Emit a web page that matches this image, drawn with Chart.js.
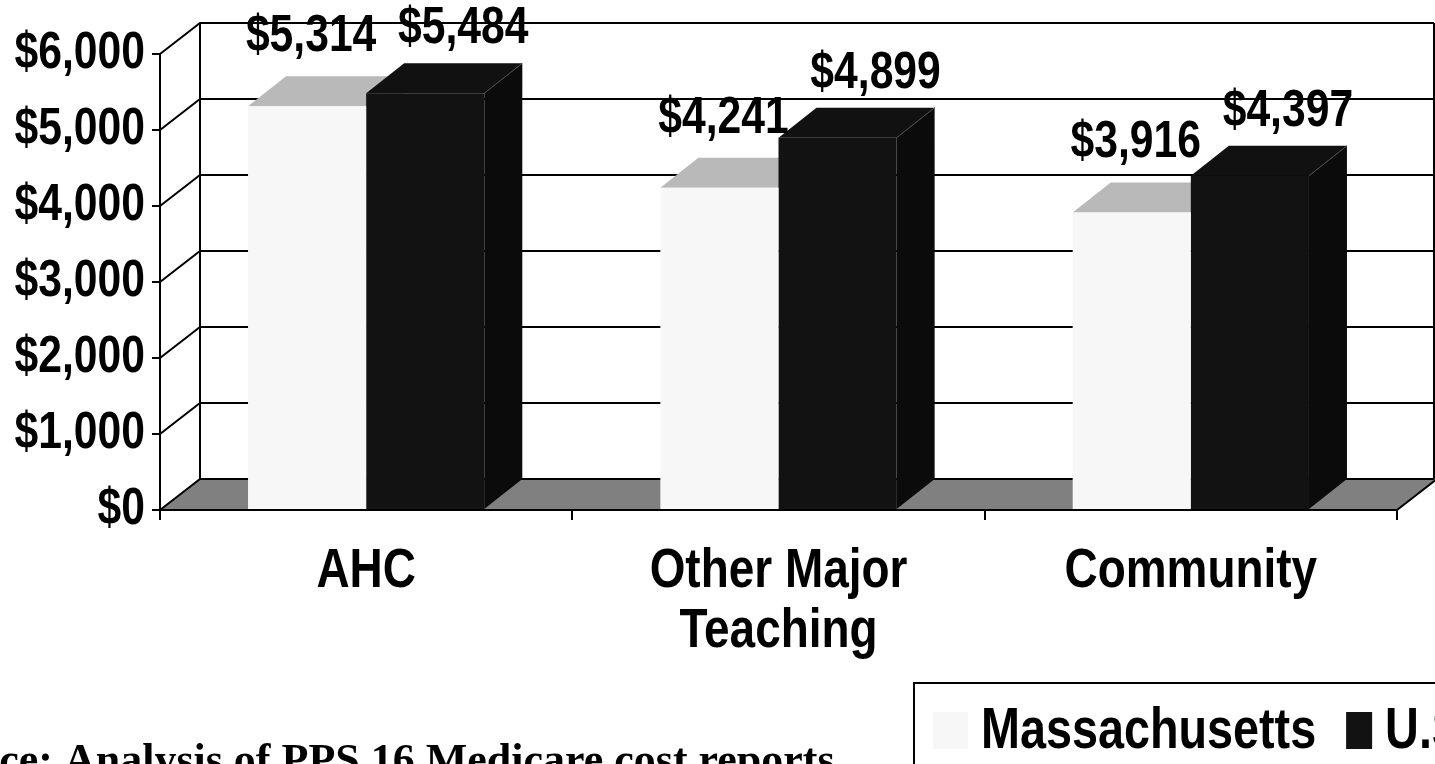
<!DOCTYPE html>
<html><head><meta charset="utf-8">
<script src="https://cdn.jsdelivr.net/npm/chart.js@4.4.1/dist/chart.umd.min.js"></script>
<style>html,body{margin:0;padding:0;background:#fff;overflow:hidden}#wrap{width:1435px;height:764px;position:relative}</style>
</head><body><div id="wrap"><canvas id="c" width="1435" height="764"></canvas></div>
<script>
// ---- data ----
const categories = ['AHC', ['Other Major', 'Teaching'], 'Community'];
const seriesNames = ['Massachusetts', 'U.S.'];
const massValues = [5314, 4241, 3916];
const usValues = [5484, 4899, 4397];
const yTickValues = [0, 1000, 2000, 3000, 4000, 5000, 6000];
const sourceNote = 'Source: Analysis of PPS 16 Medicare cost reports';

// ---- style ----
const FONT = "'Liberation Sans','Arial',sans-serif";
const NARROW = 0.82;          // horizontal squeeze to imitate a narrow face
const WALL = {dx: 40, dy: -31};
const BAR = {dx: 38, dy: -30};
const fmt = v => '$' + v.toLocaleString('en-US');

const canvas = document.getElementById('c');
const ctx0 = canvas.getContext('2d');
const origFill = ctx0.fillText;
ctx0.fillText = function (text, x, y, maxWidth) {
  const sx = this.__noSqueeze ? 1 : NARROW;
  this.save();
  this.translate(x, y);
  this.scale(sx, 1);
  origFill.call(this, text, 0, 0);
  this.restore();
};

function poly(ctx, pts) {
  ctx.beginPath();
  ctx.moveTo(pts[0][0], pts[0][1]);
  for (let i = 1; i < pts.length; i++) ctx.lineTo(pts[i][0], pts[i][1]);
  ctx.closePath();
  ctx.fill();
}

const wallPlugin = {
  id: 'wall3d',
  beforeDraw(chart) {
    const {ctx, chartArea: a, scales: {y}} = chart;
    const L = a.left, R = a.right, B = y.getPixelForValue(0);
    const wl = L + WALL.dx, wr = chart.width - 1;
    const top = y.getPixelForValue(yTickValues[yTickValues.length - 1]) + WALL.dy;
    ctx.save();
    ctx.fillStyle = '#808080';
    poly(ctx, [[L, B], [R, B], [R + WALL.dx, B + WALL.dy], [wl, B + WALL.dy]]);
    ctx.strokeStyle = '#000';
    ctx.lineWidth = 2;
    ctx.beginPath();
    yTickValues.forEach(v => {
      const py = y.getPixelForValue(v);
      ctx.moveTo(L, py);
      ctx.lineTo(wl, py + WALL.dy);
      ctx.lineTo(wr, py + WALL.dy);
    });
    ctx.moveTo(wl, top); ctx.lineTo(wl, B + WALL.dy);
    ctx.moveTo(wr, top); ctx.lineTo(wr, B + WALL.dy);
    ctx.moveTo(R, B); ctx.lineTo(R + WALL.dx, B + WALL.dy);
    ctx.stroke();
    ctx.restore();
  },
  beforeDatasetsDraw(chart) {
    const ctx = chart.ctx;
    ctx.save();
    chart.data.datasets.forEach((ds, i) => {
      chart.getDatasetMeta(i).data.forEach(el => {
        const p = el.getProps(['x', 'y', 'base', 'width'], true);
        const l = p.x - p.width / 2, r = p.x + p.width / 2;
        ctx.fillStyle = ds.sideColor;
        poly(ctx, [[r, p.y], [r + BAR.dx, p.y + BAR.dy], [r + BAR.dx, p.base + BAR.dy], [r, p.base]]);
        ctx.fillStyle = ds.topColor;
        poly(ctx, [[l, p.y], [r, p.y], [r + BAR.dx, p.y + BAR.dy], [l + BAR.dx, p.y + BAR.dy]]);
        if (ds.edgeColor) {
          ctx.strokeStyle = ds.edgeColor;
          ctx.lineWidth = 1;
          ctx.beginPath();
          ctx.moveTo(r, p.y); ctx.lineTo(r + BAR.dx, p.y + BAR.dy);
          ctx.stroke();
        }
      });
    });
    ctx.restore();
  },
  afterDatasetsDraw(chart) {
    const ctx = chart.ctx;
    ctx.save();
    ctx.fillStyle = '#000';
    ctx.font = 'bold 52px ' + FONT;
    ctx.textAlign = 'center';
    ctx.textBaseline = 'alphabetic';
    chart.data.datasets.forEach((ds, i) => {
      chart.getDatasetMeta(i).data.forEach((el, j) => {
        const p = el.getProps(['x', 'y'], true);
        ctx.fillText(fmt(ds.data[j]), p.x + ds.labelDx, p.y - ds.labelDy);
      });
    });
    ctx.restore();
  },
  afterDraw(chart) {
    const ctx = chart.ctx;
    ctx.save();
    // legend box
    ctx.strokeStyle = '#000';
    ctx.lineWidth = 2;
    ctx.strokeRect(914, 683, 700, 200);
    ctx.font = 'bold 57px ' + FONT;
    ctx.textBaseline = 'alphabetic';
    ctx.textAlign = 'left';
    let x = 933;
    chart.data.datasets.forEach((ds, i) => {
      const w = i === 0 ? 35 : 26;
      ctx.fillStyle = ds.backgroundColor;
      ctx.fillRect(x, 712, w, 37);
      x += w + 13;
      ctx.fillStyle = '#000';
      ctx.fillText(ds.label, x, 748);
      x += ctx.measureText(ds.label).width * NARROW + 30;
    });
    // source note (serif, not squeezed)
    ctx.__noSqueeze = true;
    ctx.font = 'bold 44px "Liberation Serif","Times New Roman",serif';
    const cut = ctx.measureText('Sour').width;
    ctx.fillText(sourceNote, -cut, 774);
    ctx.__noSqueeze = false;
    ctx.restore();
  }
};

new Chart(canvas, {
  type: 'bar',
  data: {
    labels: categories,
    datasets: [
      {label: seriesNames[0], data: massValues, backgroundColor: '#f7f7f7', topColor: '#b9b9b9', sideColor: '#d0d0d0',
       labelDx: 4, labelDy: 55, borderWidth: 0},
      {label: seriesNames[1], data: usValues, backgroundColor: '#121212', topColor: '#111111', sideColor: '#0b0b0b',
       edgeColor: '#4a4a4a', labelDx: 38, labelDy: 50, borderWidth: 0}
    ]
  },
  options: {
    responsive: false,
    animation: false,
    devicePixelRatio: 1,
    layout: {padding: {top: 54, right: 38, left: 0, bottom: 0}},
    categoryPercentage: 0.573,
    barPercentage: 1.0,
    plugins: {legend: {display: false}, tooltip: {enabled: false}},
    scales: {
      x: {
        grid: {offset: true, drawOnChartArea: false, drawTicks: true, tickLength: 10, color: '#000', lineWidth: 2},
        border: {display: true, color: '#000', width: 2, z: 1},
        ticks: {color: '#000', font: {family: FONT, size: 56, weight: 'bold', lineHeight: 1.07}, padding: 22, maxRotation: 0, autoSkip: false},
        afterFit: s => { s.height = 254; }
      },
      y: {
        min: 0, max: 6000,
        afterBuildTicks: s => { s.ticks = yTickValues.map(v => ({value: v})); },
        grid: {drawOnChartArea: false, drawTicks: true, tickLength: 8, color: '#000', lineWidth: 2},
        border: {display: true, color: '#000', width: 2},
        ticks: {color: '#000', font: {family: FONT, size: 52, weight: 'bold'}, padding: 7, callback: v => fmt(v)},
        afterFit: s => { s.width = 160; }
      }
    }
  },
  plugins: [wallPlugin]
});
</script>
</body></html>
